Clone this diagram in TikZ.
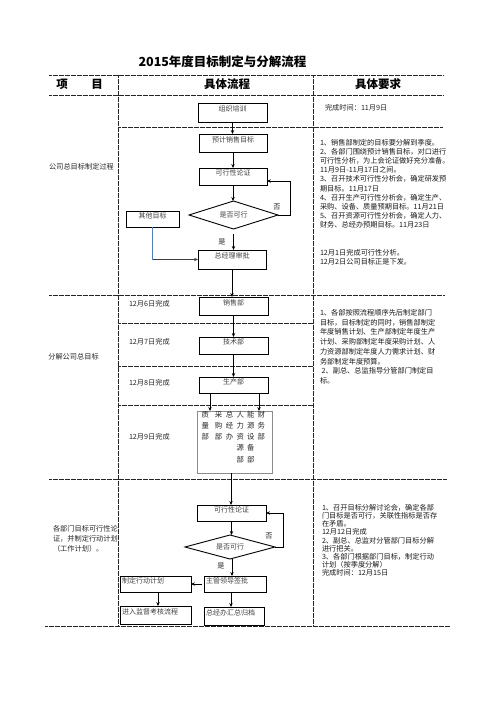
\documentclass[tikz,border=0pt]{standalone}
\usepackage{fontspec}
\setmainfont{Noto Sans CJK SC}
\usetikzlibrary{shapes.geometric,arrows.meta,calc}
\definecolor{linkblue}{RGB}{79,129,189}
\begin{document}
\begin{tikzpicture}[x=1pt,y=-1pt,
  every node/.style={inner sep=0pt, outer sep=0pt},
  box/.style={draw=black, line width=0.9pt, font=\fontsize{7}{8}\selectfont, text=black!75, text height=5pt, text depth=7pt},
  lbox/.style={box, align=left, inner xsep=2pt},
  dia/.style={shape=diamond, aspect=3, draw=black, line width=0.9pt, font=\fontsize{7}{8}\selectfont, text=black!75},
  rule/.style={line width=0.9pt, black!85, dash pattern=on 0.7pt off 0.5pt},
  arr/.style={-{Stealth[length=4pt,width=3.4pt]}, line width=0.7pt, black},
  note/.style={font=\fontsize{7.2}{9.1}\selectfont, align=left, anchor=north west, text=black!90},
  lbl/.style={font=\fontsize{7.2}{9}\selectfont, text=black!85},
  dept/.style={font=\fontsize{7.4}{11.2}\selectfont, align=center, anchor=north, text=black!85}]
\useasboundingbox (0,0) rectangle (496,702);

% title and header
\node[font=\fontsize{12.5}{14}\selectfont\bfseries] (title) at (222.5,62) {2015年度目标制定与分解流程};
\node[font=\fontsize{11.5}{13}\selectfont\bfseries] (h1a) at (62,84) {项};
\node[font=\fontsize{11.5}{13}\selectfont\bfseries] (h1b) at (97,84) {目};
\node[font=\fontsize{11.5}{13}\selectfont\bfseries] (h2) at (227,84) {具体流程};
\node[font=\fontsize{11.5}{13}\selectfont\bfseries] (h3) at (378,84) {具体要求};

% table rules
\draw[rule] (49,75) -- (443,75);
\draw[rule] (49,95) -- (443,95);
\draw[rule] (118,127) -- (443,127);
\draw[rule] (49,295) -- (444,295);
\draw[rule] (118,323) -- (313,323);
\draw[rule] (118,366) -- (313,366);
\draw[rule] (118,405) -- (313,405);
\draw[rule] (49,479) -- (447,479);
\draw[rule] (45,626) -- (450,626);
\draw[rule] (118,75) -- (118,626);
\draw[rule] (313,75) -- (313,626);

% left column labels
\node[lbl] (L1) at (81.5,167) {公司总目标制定过程};
\node[lbl] (L2) at (73.5,357) {分解公司总目标};
\node[lbl, align=left, anchor=north west, font=\fontsize{7.2}{10}\selectfont] (L3) at (53,525) {各部门目标可行性论\\证，并制定行动计划\\（工作计划）。};

% section 1 flow
\node[box, minimum width=69pt, minimum height=19pt] (org) at (232.5,112.5) {组织培训};
\node[box, minimum width=68pt, minimum height=18pt] (sales) at (233,143) {预计销售目标};
\node[box, minimum width=68pt, minimum height=17pt] (feas1) at (233,176.5) {可行性论证};
\node[dia, minimum width=89pt, minimum height=28pt] (d1) at (233.5,215) {是否可行};
\node[box, minimum width=53pt, minimum height=16pt] (other) at (152.5,219) {其他目标};
\node[box, minimum width=68pt, minimum height=19pt] (gm) at (232,259.5) {总经理审批};
\node[lbl] (no1) at (277,207) {否};
\node[lbl] (yes1) at (222,242) {是};

\draw[arr] (org.south) -- (org.south |- sales.north);
\draw[arr] (sales.south) -- (sales.south |- feas1.north);
\draw[arr] (feas1.south) -- (feas1.south |- d1.north);
\draw[arr] (d1.east) -- ++(12,0) |- ([yshift=-4.5pt]feas1.east);
\draw[arr] ([yshift=-5pt]d1.south) -- (d1.south |- gm.north);
\coordinate (oc) at (other.south |- gm.west);
\draw[line width=0.8pt, linkblue] (other.south) -- (oc);
\draw[arr, black!75] (oc) -- (gm.west);

\node[lbl, anchor=west] (t1) at (325,108) {完成时间：11月9日};
\node[note] (n1) at (320,139.4) {1、销售部制定的目标要分解到季度。\\2、各部门围绕预计销售目标，对口进行\\可行性分析，为上会论证做好充分准备。\\11月9日-11月17日之间。\\3、召开技术可行性分析会，确定研发预\\期目标。11月17日\\4、召开生产可行性分析会，确定生产、\\采购、设备、质量预期目标。11月21日\\5、召开资源可行性分析会，确定人力、\\财务、总经办预期目标。11月23日};
\node[note] (n2) at (320,249.4) {12月1日完成可行性分析。\\12月2日公司目标正是下发。};

% section 2 flow
\node[box, minimum width=69pt, minimum height=18pt] (xs) at (233.5,306) {销售部};
\node[box, minimum width=69pt, minimum height=17pt] (js) at (233.5,345.5) {技术部};
\node[box, minimum width=69pt, minimum height=16pt] (sc) at (233.5,385) {生产部};
\node[draw=black!45, line width=0.8pt, minimum width=75pt, minimum height=62pt] (dep) at (234.5,442) {};
\node[dept] (c1) at (205.3,411) {质\\量\\部};
\node[dept] (c2) at (218.5,411) {采\\购\\部};
\node[dept] (c3) at (229.5,411) {总\\经\\办};
\node[dept] (c4) at (240.3,411) {人\\力\\资\\源\\部};
\node[dept] (c5) at (250.8,411) {能\\源\\设\\备\\部};
\node[dept] (c6) at (261.2,411) {财\\务\\部};

\draw[arr] (gm.south) -- (gm.south |- xs.north);
\draw[arr] (xs.south) -- (xs.south |- js.north);
\draw[arr] (js.south) -- (js.south |- sc.north);
\draw[arr] ([xshift=-23.5pt]sc.south) -- ([xshift=-23.5pt]sc.south |- dep.north);
\draw[arr] ([xshift=25.5pt]sc.south) -- ([xshift=25.5pt]sc.south |- dep.north);

\node[lbl, anchor=west] (m1) at (129,304) {12月6日完成};
\node[lbl, anchor=west] (m2) at (129,342) {12月7日完成};
\node[lbl, anchor=west] (m3) at (129,383) {12月8日完成};
\node[lbl, anchor=west] (m4) at (129,437) {12月9日完成};
\node[note, font=\fontsize{7.2}{9.7}\selectfont] (n3) at (320,309.4) {1、各部按照流程顺序先后制定部门\\目标，目标制定的同时，销售部制定\\年度销售计划、生产部制定年度生产\\计划、采购部制定年度采购计划、人\\力资源部制定年度人力需求计划、财\\务部制定年度预算。\\\ 2、副总、总监指导分管部门制定目\\标。};

% section 3 flow
\node[box, minimum width=69pt, minimum height=16pt] (feas2) at (231.5,513) {可行性论证};
\node[dia, minimum width=90pt, minimum height=24pt] (d2) at (230,547) {是否可行};
\node[lbox, text width=58pt, minimum height=16pt] (lead) at (235,584) {主管领导签批};
\node[lbox, text width=67pt, minimum height=16pt] (plan) at (155.5,584) {制定行动计划};
\node[lbox, text width=67pt, minimum height=18pt] (sup) at (155.5,615) {进入监督考核流程};
\node[lbox, text width=56pt, minimum height=18pt] (arch) at (234,616) {总经办汇总归档};
\node[lbl] (no2) at (269,536) {否};
\node[lbl] (yes2) at (221,566) {是};

\draw[arr] ([xshift=-3.5pt]dep.south) -- ([xshift=-3.5pt]dep.south |- feas2.north);
\draw[arr] (feas2.south) -- (feas2.south |- d2.north);
\draw[arr] (d2.east) -- ++(8,0) |- (feas2.east);
\draw[arr] ([xshift=2pt]d2.south) -- ([xshift=2pt]d2.south |- lead.north);
\draw[arr] ([xshift=-2pt]lead.west) -- (plan.east);
\draw[arr] ([xshift=2.5pt]plan.south) -- ([xshift=2.5pt]plan.south |- sup.north);
\draw[arr] ([xshift=-4pt]lead.south) -- ([xshift=-4pt]lead.south |- arch.north);

\node[note, font=\fontsize{7.2}{8.15}\selectfont] (n4) at (322,504.4) {1、召开目标分解讨论会，确定各部\\门目标是否可行，关联性指标是否存\\在矛盾。\\12月12日完成\\2、副总、总监对分管部门目标分解\\进行把关。\\3、各部门根据部门目标，制定行动\\计划（按季度分解）\\完成时间：12月15日};
\end{tikzpicture}
\end{document}
